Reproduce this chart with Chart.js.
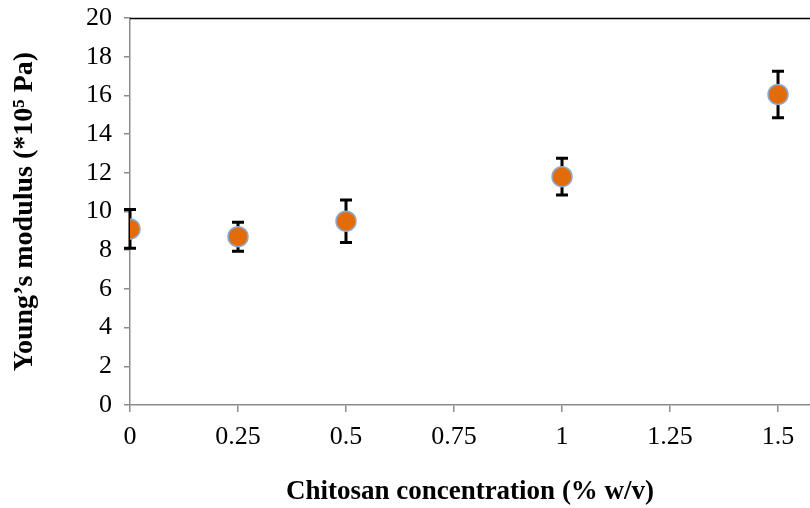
<!DOCTYPE html>
<html lang="en">
<head>
  <meta charset="UTF-8" />
  <title>Young's modulus vs chitosan concentration</title>
  <script src="https://cdn.jsdelivr.net/npm/chart.js"></script>
  <style>
    html, body { margin: 0; padding: 0; background: #fff; }
    #wrap { width: 810px; height: 508px; }
  </style>
</head>
<body>
  <div id="wrap"><canvas id="grafico" width="810" height="508"></canvas></div>

  <script>
    // data
    const concentracao = [0, 0.25, 0.5, 1, 1.5];
    const modulo = [9.1, 8.7, 9.5, 11.8, 16.05];
    const erro = [1.0, 0.75, 1.1, 0.95, 1.2];
    const yTicks = [0, 2, 4, 6, 8, 10, 12, 14, 16, 18, 20];

    const pontos = concentracao.map((c, i) => ({ x: c, y: modulo[i] }));

    // error bars + top frame line, drawn with the chart's own scales
    const barrasErro = {
      id: 'barrasErro',
      beforeDatasetsDraw(chart) {
        const ctx = chart.ctx, sx = chart.scales.x, sy = chart.scales.y;
        const area = chart.chartArea;
        ctx.save();
        ctx.strokeStyle = '#000';
        ctx.lineWidth = 1.3;
        ctx.beginPath();
        ctx.moveTo(area.left, area.top + 0.5);
        ctx.lineTo(area.right, area.top + 0.5);
        ctx.stroke();

        ctx.lineWidth = 3;
        concentracao.forEach((c, i) => {
          const px = sx.getPixelForValue(c);
          const top = sy.getPixelForValue(modulo[i] + erro[i]);
          const bot = sy.getPixelForValue(modulo[i] - erro[i]);
          ctx.beginPath();
          ctx.moveTo(px, top); ctx.lineTo(px, bot);
          ctx.moveTo(px - 6, top); ctx.lineTo(px + 6, top);
          ctx.moveTo(px - 6, bot); ctx.lineTo(px + 6, bot);
          ctx.stroke();
        });
        ctx.restore();
      }
    };

    const fonte = { family: '"Liberation Serif", "Times New Roman", serif', size: 26 };
    const fonteTitulo = { family: '"Liberation Serif", "Times New Roman", serif', size: 27, weight: 'bold' };

    new Chart(document.getElementById('grafico').getContext('2d'), {
      type: 'scatter',
      data: {
        datasets: [{
          data: pontos,
          backgroundColor: '#E36C0A',
          borderColor: '#8EA9D0',
          borderWidth: 1.5,
          pointRadius: 10,
          pointHoverRadius: 10
        }]
      },
      options: {
        responsive: false,
        animation: false,
        layout: { autoPadding: false, padding: { top: 18, right: 0, left: 0, bottom: 0 } },
        plugins: { legend: { display: false }, tooltip: { enabled: false } },
        scales: {
          x: {
            type: 'linear',
            min: 0,
            max: 1.574,
            afterFit: s => { s.height = 103; s.paddingLeft = 0; s.paddingRight = 0; },
            border: { color: '#8c8c8c', width: 1.5 },
            grid: { drawOnChartArea: false, drawTicks: true, tickLength: 7, color: '#8c8c8c', lineWidth: 1.5 },
            ticks: { stepSize: 0.25, includeBounds: false, color: '#000', font: fonte, padding: 10, maxRotation: 0,
                     callback: v => String(v) },
            title: { display: true, text: 'Chitosan concentration (% w/v)', color: '#000', font: fonteTitulo,
                     padding: { top: 0, bottom: 0 } }
          },
          y: {
            min: 0,
            max: 20,
            afterFit: s => { s.width = 130; s.paddingTop = 0; s.paddingBottom = 0; },
            afterBuildTicks: s => { s.ticks = yTicks.map(v => ({ value: v })); },
            border: { color: '#8c8c8c', width: 1.5 },
            grid: { drawOnChartArea: false, drawTicks: true, tickLength: 6, color: '#8c8c8c', lineWidth: 1.5 },
            ticks: { color: '#000', font: fonte, padding: 12 },
            title: { display: true, text: 'Young\u2019s modulus (*10\u2075 Pa)', color: '#000',
                     font: Object.assign({}, fonteTitulo, { size: 28 }),
                     padding: { top: 8, bottom: 0 } }
          }
        }
      },
      plugins: [barrasErro]
    });
  </script>
</body>
</html>
